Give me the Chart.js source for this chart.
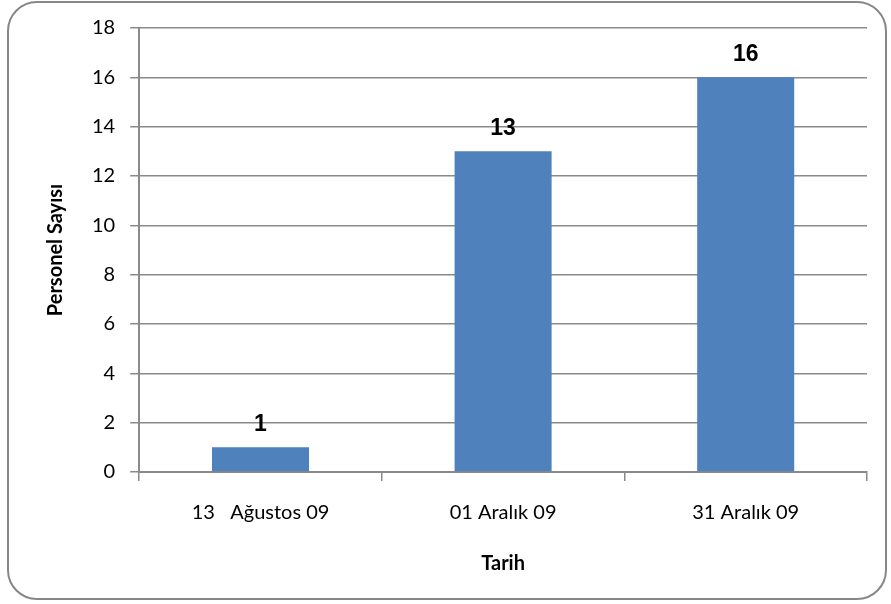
<!DOCTYPE html>
<html>
<head>
<meta charset="utf-8">
<script src="https://cdn.jsdelivr.net/npm/chart.js@4"></script>
<style>
    html, body { margin: 0; padding: 0; background: #fff; }
    #wrap { position: relative; width: 891px; height: 604px; }
    #frame {
        position: absolute; left: 7px; top: 1px; width: 880px; height: 599px;
        border: 2px solid #878787; border-radius: 30px; box-sizing: border-box;
    }
    canvas { position: absolute; left: 0; top: 0; }
</style>
</head>
<body>
<div id="wrap">
    <div id="frame"></div>
    <canvas id="chart" width="891" height="604"></canvas>
</div>
<script>
// ---------------------------------------------------------------------------
// Data
// ---------------------------------------------------------------------------
const categories = ['13   Ağustos 09', '01 Aralık 09', '31 Aralık 09'];
const personel = [1, 13, 16];
const yTicks = [0, 2, 4, 6, 8, 10, 12, 14, 16, 18];

const GRID = '#8a8a8a';
const BAR = '#4f81bd';
const LABEL_FONT = "Lato, 'Noto Sans', sans-serif";

// value labels above each bar
const valueLabels = {
    id: 'valueLabels',
    afterDatasetsDraw(chart) {
        const ctx = chart.ctx;
        const meta = chart.getDatasetMeta(0);
        ctx.save();
        ctx.font = "bold 23px 'Liberation Sans', Arial, sans-serif";
        ctx.fillStyle = '#000';
        ctx.textAlign = 'center';
        ctx.textBaseline = 'bottom';
        meta.data.forEach((bar, i) => {
            ctx.fillText(String(personel[i]), bar.x, bar.y - 11);
        });
        ctx.restore();
    }
};

new Chart(document.getElementById('chart'), {
    type: 'bar',
    data: {
        labels: categories,
        datasets: [{
            label: 'Personel Sayısı',
            data: personel,
            backgroundColor: BAR,
            borderWidth: 0,
            categoryPercentage: 1,
            barPercentage: 0.4,
        }]
    },
    options: {
        responsive: false,
        animation: false,
        devicePixelRatio: 1,
        layout: { padding: { left: 44, right: 24, top: 28, bottom: 28 } },
        plugins: {
            legend: { display: false },
            tooltip: { enabled: false },
        },
        scales: {
            x: {
                grid: { drawOnChartArea: false, drawTicks: true, tickLength: 9, color: GRID, lineWidth: 1.5 },
                border: { color: GRID, width: 2 },
                ticks: { color: '#000', font: { family: LABEL_FONT, size: 20 }, padding: 20, maxRotation: 0 },
                title: {
                    display: true, text: 'Tarih', color: '#000',
                    font: { family: LABEL_FONT, size: 20, weight: 'bold' },
                    padding: { top: 7, bottom: 0 },
                },
            },
            y: {
                min: 0,
                max: 18,
                afterBuildTicks: (axis) => { axis.ticks = yTicks.map(v => ({ value: v })); },
                grid: { color: GRID, lineWidth: 1.5, tickLength: 9 },
                border: { color: GRID, width: 2 },
                ticks: { color: '#000', font: { family: LABEL_FONT, size: 20 }, padding: 15 },
                title: {
                    display: true, text: 'Personel Sayısı', color: '#000',
                    font: { family: LABEL_FONT, size: 20, weight: 'bold' },
                    padding: { top: 0, bottom: 9 },
                },
            },
        },
    },
    plugins: [valueLabels],
});
</script>
</body>
</html>
